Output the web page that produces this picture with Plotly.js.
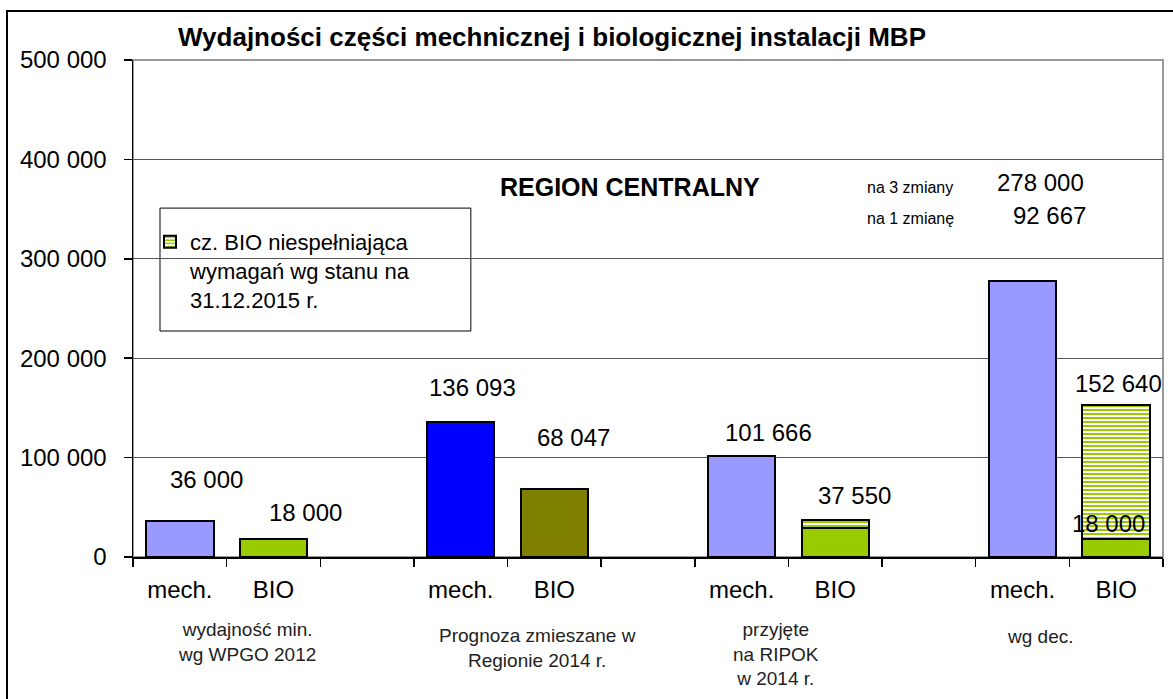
<!DOCTYPE html>
<html>
<head>
<meta charset="utf-8">
<script src="https://cdn.plot.ly/plotly-3.0.1.min.js"></script>
<style>html,body{margin:0;padding:0;background:#fff;}#chart{width:1173px;height:699px;}</style>
</head>
<body>
<div id="chart"></div>
<script>
// ---- data ----
const groupLabels = ["wydajność min.<br>wg WPGO 2012", "Prognoza zmieszane w<br>Regionie 2014 r.", "przyjęte<br>na RIPOK<br>w 2014 r.", "wg dec."];
const barLabels = ["mech.", "BIO"];
const mechValues = [36000, 136093, 101666, 278000];
const bioTotalValues = [18000, 68047, 37550, 152640];
const bioCompliantValues = [18000, 68047, 29000, 18000];
const mechColors = ["#9999FF", "#0000FF", "#9999FF", "#9999FF"];
const bioColors = ["#99CC00", "#808000", "#99CC00", "#99CC00"];
const shiftLabels = ["na 3 zmiany", "na 1 zmianę"];
const shiftValues = [278000, 92667];
const legendName = "cz. BIO niespełniająca<br>wymagań wg stanu na<br>31.12.2015 r.";

// ---- helpers ----
const fmt = v => String(v).replace(/\B(?=(\d{3})+(?!\d))/g, " ");
const mechX = groupLabels.map((g, i) => i * 3);
const bioX = groupLabels.map((g, i) => i * 3 + 1);
const hatched = bioTotalValues.map((t, i) => (t - bioCompliantValues[i]) > 0 ? t - bioCompliantValues[i] : null);
const FONT = "Liberation Sans, Arial, sans-serif";
const lineBlack = {color: "#000", width: 2};

const traces = [
  {type: "bar", x: mechX, y: mechValues, width: 0.72, showlegend: false, hoverinfo: "y",
   marker: {color: mechColors, line: lineBlack}},
  {type: "bar", x: bioX, y: bioCompliantValues, width: 0.72, showlegend: false, hoverinfo: "y",
   marker: {color: bioColors, line: lineBlack}},
  {type: "bar", x: bioX, y: hatched, width: 0.72, name: legendName, showlegend: true, hoverinfo: "y",
   marker: {color: "#ffffff", line: lineBlack,
            pattern: {shape: "-", fgcolor: "#99CC00", bgcolor: "#ffffff", size: 4, solidity: 0.5}}}
];

// value label offsets (layout only)
const mechLabelOff = [[0.29, 41500], [0.13, 34600], [0.29, 23500], null];
const bioLabelOff = [[0.34, 26300], [0.20, 52150], [0.21, 23850], [0.03, 22360]];
const groupLabelX = [0.72, 3.82, 6.37, 9.19];
const groupLabelShift = [-60, -66, -60, -67];

const ann = [];
mechValues.forEach((v, i) => {
  if (!mechLabelOff[i]) return;
  ann.push({x: mechX[i] + mechLabelOff[i][0], y: v + mechLabelOff[i][1], xref: "x", yref: "y",
            text: fmt(v), showarrow: false, font: {size: 24}});
});
bioTotalValues.forEach((v, i) => {
  ann.push({x: bioX[i] + bioLabelOff[i][0], y: v + bioLabelOff[i][1], xref: "x", yref: "y",
            text: fmt(v), showarrow: false, font: {size: 24}});
});
// solid part label of last BIO bar
ann.push({x: bioX[3] - 0.08, y: bioCompliantValues[3] + 16000, xref: "x", yref: "y",
          text: fmt(bioCompliantValues[3]), showarrow: false, font: {size: 24}});
groupLabels.forEach((g, i) => {
  ann.push({x: groupLabelX[i], y: 0, xref: "x", yref: "paper", yanchor: "top", yshift: groupLabelShift[i],
            text: g, showarrow: false, font: {size: 19, color: "#222"}});
});
ann.push({x: 4.807, y: 372200, xref: "x", yref: "y", text: "<b>REGION CENTRALNY</b>", showarrow: false, font: {size: 25}});
ann.push({x: 7.80, y: 372000, xref: "x", yref: "y", text: shiftLabels[0], showarrow: false, font: {size: 16}});
ann.push({x: 7.80, y: 341000, xref: "x", yref: "y", text: shiftLabels[1], showarrow: false, font: {size: 16}});
ann.push({x: 9.19, y: 377000, xref: "x", yref: "y", text: fmt(shiftValues[0]), showarrow: false, font: {size: 24}});
ann.push({x: 9.29, y: 344000, xref: "x", yref: "y", text: fmt(shiftValues[1]), showarrow: false, font: {size: 24}});

const boundaries = [];
for (let k = -0.5; k <= 10.5; k += 1) boundaries.push(k);
const tickVals = [], tickText = [];
groupLabels.forEach((g, i) => { tickVals.push(mechX[i], bioX[i]); tickText.push(barLabels[0], barLabels[1]); });

const layout = {
  width: 1173, height: 699,
  margin: {l: 133, r: 10, t: 60, b: 142, pad: 0},
  paper_bgcolor: "#fff", plot_bgcolor: "#fff",
  font: {family: FONT, color: "#000"},
  separators: ", ",
  barmode: "stack",
  title: {text: "<b>Wydajności części mechnicznej i biologicznej instalacji MBP</b>",
          x: 0.4706, xref: "container", xanchor: "center", y: 0.947, yref: "container", yanchor: "middle",
          font: {size: 26, family: FONT, color: "#000"}},
  xaxis: {range: [-0.5, 10.5], tickmode: "array", tickvals: tickVals, ticktext: tickText, ticks: "",
          ticklabelstandoff: 11, tickfont: {size: 24},
          showline: true, linecolor: "#000", linewidth: 1.5, showgrid: false, zeroline: false,
          minor: {tickmode: "array", tickvals: boundaries, ticks: "outside", ticklen: 8, tickwidth: 1.5, tickcolor: "#000", showgrid: false},
          fixedrange: true},
  yaxis: {range: [0, 500000], tickmode: "linear", tick0: 0, dtick: 100000, tickformat: ",d",
          ticks: "outside", ticklen: 8, tickwidth: 1.5, tickcolor: "#000", tickfont: {size: 24},
          ticklabelstandoff: 12,
          showline: true, linecolor: "#000", linewidth: 1.5, showgrid: true, gridcolor: "#555", gridwidth: 1,
          zeroline: false, fixedrange: true},
  showlegend: true,
  legend: {x: 0.0165, xanchor: "left", y: 0.676, yanchor: "top", bgcolor: "rgba(0,0,0,0)", borderwidth: 0,
           font: {size: 22}, valign: "top", itemwidth: 30, traceorder: "normal"},
  annotations: ann,
  shapes: [
    {type: "rect", xref: "paper", yref: "paper", x0: 0, x1: 1, y0: 0, y1: 1, line: {color: "#999", width: 2}, layer: "below"},
    {type: "rect", xref: "paper", yref: "paper", x0: 0.0262, x1: 0.328, y0: 0.4547, y1: 0.702, line: {color: "#000", width: 1}, fillcolor: "rgba(0,0,0,0)", layer: "below"},
    {type: "rect", xref: "paper", yref: "paper", x0: (7 - 133) / 1030, x1: (1190 - 133) / 1030, y0: (557 - 720) / 497, y1: (557 - 11) / 497, line: {color: "#000", width: 2}, fillcolor: "rgba(0,0,0,0)"}
  ]
};

Plotly.newPlot("chart", traces, layout, {displayModeBar: false, staticPlot: true});
</script>
</body>
</html>
